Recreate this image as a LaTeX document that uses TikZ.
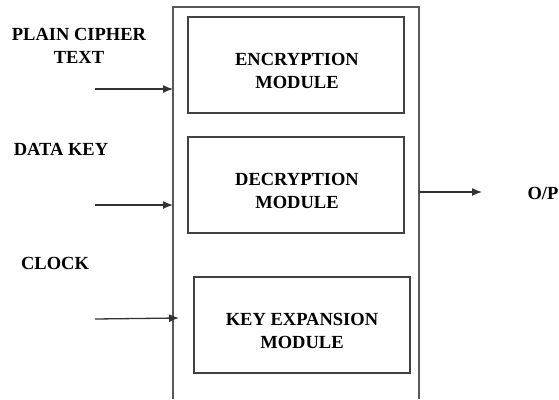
\documentclass[tikz,border=0pt]{standalone}
\usepackage{fontspec}
\setmainfont{Liberation Serif}
\usetikzlibrary{arrows.meta}
\begin{document}
\begin{tikzpicture}[x=1pt,y=-1pt,
  lbl/.style={font=\fontsize{18.5}{23.5}\selectfont\bfseries, align=center, inner sep=0pt},
  modbox/.style={draw=black!75, line width=1.3pt, inner sep=0pt},
  frame/.style={draw=black!65, line width=1.3pt},
  conn/.style={draw=black!80, line width=1.3pt, -{Latex[length=10pt,width=8pt]}}]
\useasboundingbox (0,0) rectangle (559,399);
% outer frame (open at bottom)
\draw[frame] (173,399) -- (173,7) -- (419,7) -- (419,399);
% modules
\node[modbox, minimum width=216pt, minimum height=96pt] (enc) at (296,65) {};
\node[lbl] at (297,71) {ENCRYPTION\\MODULE};
\node[modbox, minimum width=216pt, minimum height=96pt] (dec) at (296,185) {};
\node[lbl] at (297,191) {DECRYPTION\\MODULE};
\node[modbox, minimum width=216pt, minimum height=96pt] (kex) at (302,325) {};
\node[lbl] at (302,331) {KEY EXPANSION\\MODULE};
% input labels
\node[lbl] (pct) at (79,46) {PLAIN CIPHER\\TEXT};
\node[lbl] (dk) at (61,149) {DATA KEY};
\node[lbl] (clk) at (55,263) {CLOCK};
\node[lbl] (op) at (543,193) {O/P};
% connector end points
\coordinate (a1) at (95,89);  \coordinate (b1) at (173,89);
\coordinate (a2) at (95,205); \coordinate (b2) at (173,205);
\coordinate (a3) at (95,319); \coordinate (b3) at (179,318);
\coordinate (a4) at (419,192); \coordinate (b4) at (482,192);
\draw[conn] (a1) -- (b1);
\draw[conn] (a2) -- (b2);
\draw[conn] (a3) -- (b3);
\draw[conn] (a4) -- (b4);
\end{tikzpicture}
\end{document}
